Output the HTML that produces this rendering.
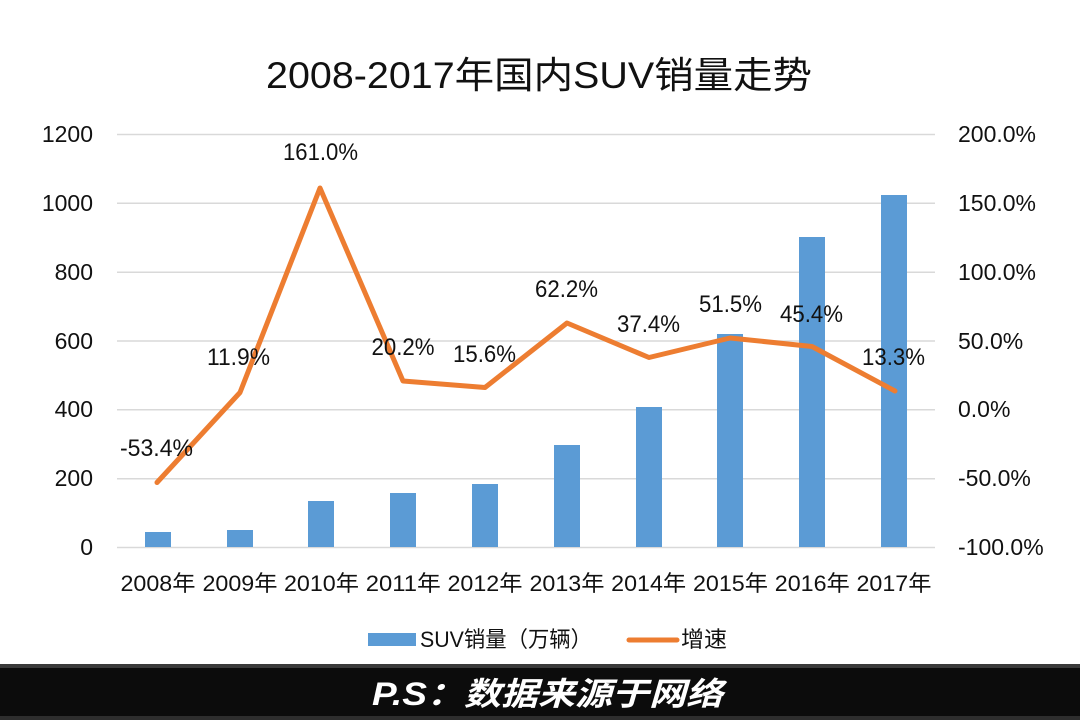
<!DOCTYPE html>
<html>
<head>
<meta charset="utf-8">
<style>
html,body{margin:0;padding:0;background:#fff;}
svg{display:block;}
text{font-family:"Liberation Sans","Noto Sans CJK SC",sans-serif;fill:#111;}
</style>
</head>
<body>
<svg width="1080" height="720" viewBox="0 0 1080 720" xmlns="http://www.w3.org/2000/svg">
<rect x="0" y="0" width="1080" height="720" fill="#fff"/>
<!-- title -->
<text x="266" y="88" font-size="37" textLength="546" lengthAdjust="spacingAndGlyphs">2008-2017年国内SUV销量走势</text>

<!-- gridlines -->
<g stroke="#d9d9d9" stroke-width="1.5">
<line x1="117" y1="134.5" x2="935" y2="134.5"/>
<line x1="117" y1="203.3" x2="935" y2="203.3"/>
<line x1="117" y1="272.2" x2="935" y2="272.2"/>
<line x1="117" y1="341" x2="935" y2="341"/>
<line x1="117" y1="409.8" x2="935" y2="409.8"/>
<line x1="117" y1="478.7" x2="935" y2="478.7"/>
<line x1="117" y1="547.5" x2="935" y2="547.5"/>
</g>

<!-- left ticks -->
<g font-size="23" text-anchor="end">
<text x="93" y="142">1200</text>
<text x="93" y="211">1000</text>
<text x="93" y="280">800</text>
<text x="93" y="349">600</text>
<text x="93" y="417">400</text>
<text x="93" y="486">200</text>
<text x="93" y="555">0</text>
</g>
<!-- right ticks -->
<g font-size="23">
<text x="958" y="142">200.0%</text>
<text x="958" y="211">150.0%</text>
<text x="958" y="280">100.0%</text>
<text x="958" y="349">50.0%</text>
<text x="958" y="417">0.0%</text>
<text x="958" y="486">-50.0%</text>
<text x="958" y="555">-100.0%</text>
</g>

<!-- bars -->
<g fill="#5b9bd5">
<rect x="145" y="532" width="26" height="15"/>
<rect x="227" y="530" width="26" height="17"/>
<rect x="308" y="501" width="26" height="46"/>
<rect x="390" y="493" width="26" height="54"/>
<rect x="472" y="484" width="26" height="63"/>
<rect x="554" y="445" width="26" height="102"/>
<rect x="636" y="407" width="26" height="140"/>
<rect x="717" y="334" width="26" height="213"/>
<rect x="799" y="237" width="26" height="310"/>
<rect x="881" y="195" width="26" height="352"/>
</g>

<!-- line -->
<polyline fill="none" stroke="#ed7d31" stroke-width="5" stroke-linejoin="round" stroke-linecap="round"
 points="157,482.5 240,392.5 320,188 403,381 485,387.5 567,323 649,357.5 730,338 812,346.5 895,391"/>

<!-- data labels -->
<g font-size="24" text-anchor="middle">
<text x="156.5" y="456" textLength="73" lengthAdjust="spacingAndGlyphs">-53.4%</text>
<text x="238.5" y="365" textLength="63" lengthAdjust="spacingAndGlyphs">11.9%</text>
<text x="320.5" y="160" textLength="75" lengthAdjust="spacingAndGlyphs">161.0%</text>
<text x="403" y="355" textLength="63" lengthAdjust="spacingAndGlyphs">20.2%</text>
<text x="484.5" y="362" textLength="63" lengthAdjust="spacingAndGlyphs">15.6%</text>
<text x="566.5" y="297" textLength="63" lengthAdjust="spacingAndGlyphs">62.2%</text>
<text x="648.5" y="332" textLength="63" lengthAdjust="spacingAndGlyphs">37.4%</text>
<text x="730.5" y="312" textLength="63" lengthAdjust="spacingAndGlyphs">51.5%</text>
<text x="811.5" y="322" textLength="63" lengthAdjust="spacingAndGlyphs">45.4%</text>
<text x="893.5" y="365" textLength="63" lengthAdjust="spacingAndGlyphs">13.3%</text>
</g>

<!-- x labels -->
<g font-size="22" text-anchor="middle">
<text x="158" y="591" textLength="75" lengthAdjust="spacingAndGlyphs">2008年</text>
<text x="240" y="591" textLength="75" lengthAdjust="spacingAndGlyphs">2009年</text>
<text x="321.5" y="591" textLength="75" lengthAdjust="spacingAndGlyphs">2010年</text>
<text x="403.3" y="591" textLength="75" lengthAdjust="spacingAndGlyphs">2011年</text>
<text x="485" y="591" textLength="75" lengthAdjust="spacingAndGlyphs">2012年</text>
<text x="567" y="591" textLength="75" lengthAdjust="spacingAndGlyphs">2013年</text>
<text x="648.7" y="591" textLength="75" lengthAdjust="spacingAndGlyphs">2014年</text>
<text x="730.5" y="591" textLength="75" lengthAdjust="spacingAndGlyphs">2015年</text>
<text x="812.3" y="591" textLength="75" lengthAdjust="spacingAndGlyphs">2016年</text>
<text x="894" y="591" textLength="75" lengthAdjust="spacingAndGlyphs">2017年</text>
</g>

<!-- legend -->
<rect x="368" y="633" width="48" height="13" fill="#5b9bd5"/>
<text x="420" y="647" font-size="22" textLength="172" lengthAdjust="spacingAndGlyphs">SUV销量（万辆）</text>
<line x1="629" y1="640" x2="677" y2="640" stroke="#ed7d31" stroke-width="5" stroke-linecap="round"/>
<text x="681" y="647" font-size="22" textLength="46" lengthAdjust="spacingAndGlyphs">增速</text>

<!-- footer -->
<rect x="0" y="664" width="1080" height="56" fill="#0c0c0c"/>
<rect x="0" y="664" width="1080" height="4" fill="#3a3a3a"/>
<rect x="0" y="716" width="1080" height="4" fill="#2e2e2e"/>
<text x="372" y="705" font-size="32" font-style="italic" font-weight="bold" style="fill:#fff" textLength="351" lengthAdjust="spacingAndGlyphs">P.S：数据来源于网络</text>
</svg>
</body>
</html>
